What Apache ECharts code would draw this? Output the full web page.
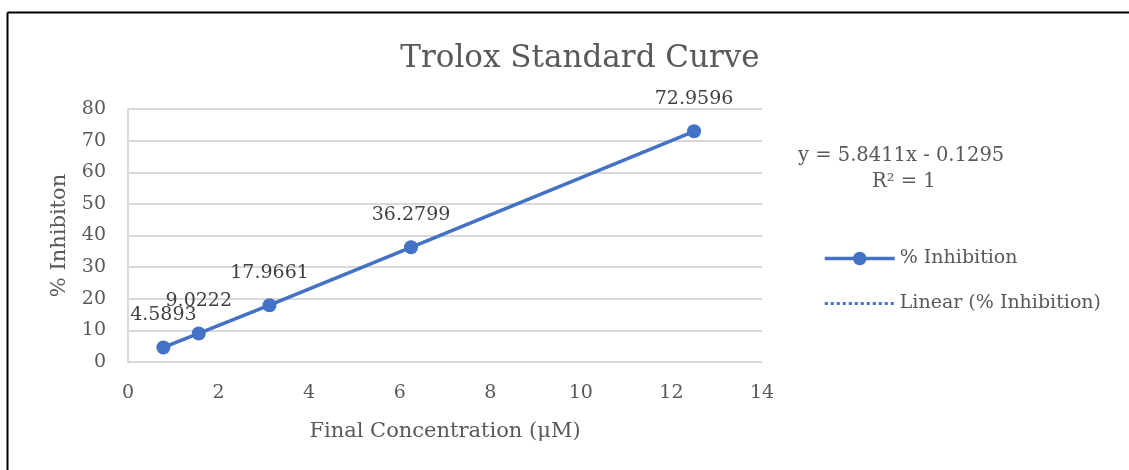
<!DOCTYPE html>
<html>
<head>
<meta charset="utf-8">
<script src="https://cdn.jsdelivr.net/npm/echarts@6/dist/echarts.min.js"></script>
<style>
  html, body { margin: 0; padding: 0; background: #fff; }
  #chart { width: 1129px; height: 470px; }
</style>
</head>
<body>
<div id="chart"></div>
<script>
// data
var concentration = [0.78125, 1.5625, 3.125, 6.25, 12.5];
var inhibition = [4.5893, 9.0222, 17.9661, 36.2799, 72.9596];
// trend line end points (y = 5.8411x - 0.1295)
var trendX = [0.78125, 12.5];
var trendY = [4.434, 72.884];
var xTicks = [0, 2, 4, 6, 8, 10, 12, 14];
var yTicks = [0, 10, 20, 30, 40, 50, 60, 70, 80];
var equationText = 'y = 5.8411x - 0.1295';
var r2Text = 'R² = 1';

var font = '"DejaVu Serif", "Liberation Serif", serif';
var textColor = '#595959';
var blue = '#4472C4';

var myChart = echarts.init(document.getElementById('chart'));

var mainData = [];
for (let i = 0; i < concentration.length; i++) {
    mainData.push([concentration[i], inhibition[i]]);
}
var trendData = [];
for (let i = 0; i < trendX.length; i++) {
    trendData.push([trendX[i], trendY[i]]);
}

var option = {
    backgroundColor: '#fff',
    animation: false,
    textStyle: { fontFamily: font, color: textColor },
    title: {
        text: 'Trolox Standard Curve',
        left: 575,
        top: 38,
        textAlign: 'center',
        textStyle: { fontFamily: font, fontSize: 31, fontWeight: 'normal', color: textColor }
    },
    grid: { left: 128, right: 367, top: 109, bottom: 108 },
    legend: {
        orient: 'vertical',
        left: 818,
        top: 244,
        itemWidth: 70,
        itemHeight: 17,
        itemGap: 26,
        textStyle: { fontFamily: font, fontSize: 19, color: textColor },
        data: [
            { name: '% Inhibition', lineStyle: { width: 3.5 } },
            { name: 'Linear (% Inhibition)', itemStyle: { opacity: 0 }, lineStyle: { width: 3, type: 'dotted' } }
        ]
    },
    xAxis: {
        type: 'value',
        min: xTicks[0],
        max: xTicks[xTicks.length - 1],
        interval: 2,
        name: 'Final Concentration (μM)',
        nameLocation: 'middle',
        nameGap: 59,
        nameTextStyle: { fontFamily: font, fontSize: 21, color: textColor },
        axisLine: { show: false },
        axisTick: { show: false },
        splitLine: { show: false },
        axisLabel: { fontFamily: font, fontSize: 19, color: textColor, margin: 22 }
    },
    yAxis: {
        type: 'value',
        min: yTicks[0],
        max: yTicks[yTicks.length - 1],
        interval: 10,
        name: '% Inhibiton',
        nameLocation: 'middle',
        nameGap: 58,
        nameTextStyle: { fontFamily: font, fontSize: 21, color: textColor },
        axisLine: { show: true, lineStyle: { color: '#d9d9d9', width: 2 } },
        axisTick: { show: false },
        splitLine: { lineStyle: { color: '#d9d9d9', width: 2 } },
        axisLabel: { fontFamily: font, fontSize: 19, color: textColor, margin: 22 }
    },
    graphic: [
        {
            type: 'line', silent: true,
            shape: { x1: 7.5, y1: 12.5, x2: 1129, y2: 12.5 },
            style: { stroke: '#000', lineWidth: 2 }
        },
        {
            type: 'line', silent: true,
            shape: { x1: 7.5, y1: 12.5, x2: 7.5, y2: 470 },
            style: { stroke: '#000', lineWidth: 2 }
        },
        {
            type: 'text', left: 798, top: 146,
            style: { text: equationText, fontFamily: font, fontSize: 19.5, fill: textColor }
        },
        {
            type: 'text', left: 872, top: 172,
            style: { text: r2Text, fontFamily: font, fontSize: 19.5, fill: textColor }
        }
    ],
    series: [
        {
            name: '% Inhibition',
            type: 'line',
            data: mainData,
            symbol: 'circle',
            symbolSize: 14,
            z: 3,
            lineStyle: { color: blue, width: 3.5 },
            itemStyle: { color: blue },
            label: {
                show: true,
                position: 'top',
                distance: 16,
                fontFamily: font,
                fontSize: 19,
                color: '#404040',
                formatter: function (p) { return p.value[1]; }
            }
        },
        {
            name: 'Linear (% Inhibition)',
            type: 'line',
            data: trendData,
            symbol: 'none',
            z: 4,
            lineStyle: { color: blue, width: 2, type: 'dotted' },
            itemStyle: { color: blue }
        }
    ]
};

myChart.setOption(option);
</script>
</body>
</html>
